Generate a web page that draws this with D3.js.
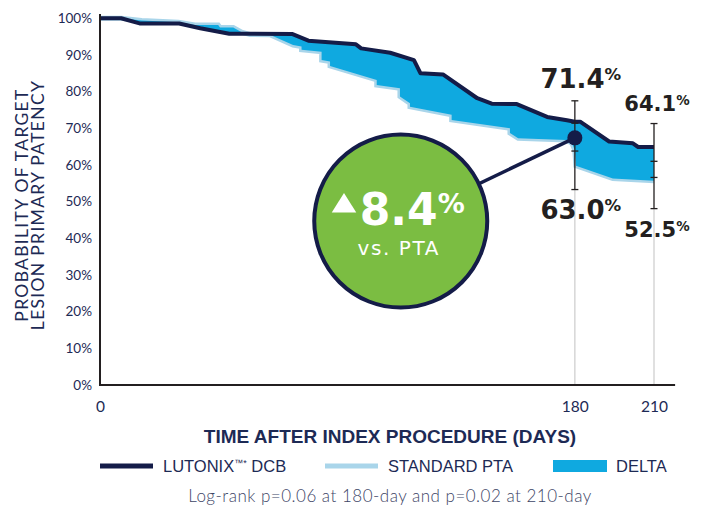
<!DOCTYPE html>
<html>
<head>
<meta charset="utf-8">
<script src="https://cdn.jsdelivr.net/npm/d3@7/dist/d3.min.js"></script>
<style>
  body { margin: 0; background: #fff; }
  svg { display: block; }
</style>
</head>
<body>
<svg id="chart" width="708" height="508"></svg>
<script>
// Kaplan-Meier estimates: [day, percent]
const dcbCurve = [
  [0, 100], [8, 100], [15, 98.6], [30, 98.6], [38, 97.3], [49, 95.8], [73, 95.7],
  [79, 93.9], [97, 92.9], [99, 91.8], [110, 90.6], [119, 88.6], [121.5, 85.0],
  [130, 84.7], [143, 78.2], [148.5, 76.7], [158, 76.6], [169.5, 73.1], [177, 72.2],
  [180, 71.8], [182, 71.8], [193, 66.4], [202, 65.9], [204, 64.9], [210, 64.9]
]
const ptaCurve = [
  [0, 100], [8, 100], [15.8, 99.4], [29.7, 98.9], [36, 98.2], [44.8, 98.2], [45.5, 97.5],
  [50.5, 97.5], [53.7, 96.2], [56.8, 95.6], [64.4, 95.5], [73.2, 92.7], [76.4, 92.3],
  [76.4, 91.4], [84, 90.9], [84, 88.6], [87.2, 88.2], [87.2, 87.0], [104.9, 83.2],
  [104.9, 81.8], [113.7, 80.9], [113.7, 78.7], [117.5, 76.8], [117.5, 75.9],
  [133.3, 73.7], [133.3, 72.3], [155.4, 70.0], [155.4, 68.7], [158.5, 67.3],
  [176.8, 66.8], [178.9, 65.9], [180, 64.0], [180.4, 59.8], [194.4, 56.3], [210, 55.7]
]

const xTicks = [0, 180, 210]
const yTicks = [0, 10, 20, 30, 40, 50, 60, 70, 80, 90, 100]

// error bars: upper, two estimate marks, lower (percent)
const errorBars = [
  { day: 180, hi: 77.5, marks: [71.4, 63.8], lo: 53.3 },
  { day: 210, hi: 71.3, marks: [61.0, 56.6], lo: 48.1 }
]
const callouts = [
  { day: 180, dcb: '71.4', pta: '63.0', big: true },
  { day: 210, dcb: '64.1', pta: '52.5', big: false }
]
const midPoint = [180, 67.4]
const bubbleAt = [114, 44.7]
const deltaText = '8.4'

const legendItems = [
  { label: 'LUTONIX', sup: '\u2122*', after: ' DCB', kind: 'dcb' },
  { label: 'STANDARD PTA', kind: 'pta' },
  { label: 'DELTA', kind: 'delta' }
]

const navy = '#141c48'
const lightBlue = '#a9d5ea'
const brightBlue = '#0fa9e0'
const green = '#7bbd42'
const ink = '#231f20'
const textNavy = '#1d2a55'

const svg = d3.select('#chart')

const x = d3.scaleLinear().domain([0, 210]).range([100, 654])
const y = d3.scaleLinear().domain([0, 100]).range([385, 18.3])

// axes
const yAxis = svg.append('g').attr('class', 'y axis').attr('transform', 'translate(100,0)')
yAxis.call(d3.axisLeft(y).tickValues(yTicks).tickSize(0).tickPadding(8).tickFormat(d => d + '%'))
yAxis.select('.domain').remove()
yAxis.selectAll('.tick text')
  .attr('font-family', 'Lato, sans-serif')
  .attr('font-size', 13.5)
  .attr('fill', textNavy)

const xAxis = svg.append('g').attr('class', 'x axis').attr('transform', 'translate(0,385)')
xAxis.call(d3.axisBottom(x).tickValues(xTicks).tickSize(0).tickPadding(16))
xAxis.select('.domain').remove()
xAxis.selectAll('.tick text')
  .attr('font-family', 'Lato, sans-serif')
  .attr('font-size', 15.5)
  .attr('fill', textNavy)

// guide lines at 180 and 210
svg.selectAll('.guide').data(errorBars).enter().append('line')
  .attr('class', 'guide')
  .attr('x1', d => x(d.day)).attr('x2', d => x(d.day))
  .attr('y1', d => y(d.lo)).attr('y2', y(0))
  .attr('stroke', '#cfcfcf').attr('stroke-width', 1.3)

// curves
const line = d3.line().x(d => x(d[0])).y(d => y(d[1]))

svg.append('path')
  .attr('d', line(ptaCurve))
  .attr('fill', 'none')
  .attr('stroke', lightBlue)
  .attr('stroke-width', 5)

svg.append('path')
  .attr('d', line(dcbCurve.concat(ptaCurve.slice().reverse())) + 'Z')
  .attr('fill', brightBlue)

svg.append('path')
  .attr('d', line(dcbCurve))
  .attr('fill', 'none')
  .attr('stroke', navy)
  .attr('stroke-width', 4)
  .attr('stroke-linejoin', 'round')

// axis lines on top
svg.append('line').attr('x1', 100).attr('x2', 100).attr('y1', y(101.2)).attr('y2', y(0) + 1)
  .attr('stroke', ink).attr('stroke-width', 2)
svg.append('line').attr('x1', 99).attr('x2', x(218)).attr('y1', y(0)).attr('y2', y(0))
  .attr('stroke', ink).attr('stroke-width', 2)

// error bars
const eb = svg.selectAll('.errbar').data(errorBars).enter().append('g').attr('class', 'errbar')
eb.append('line')
  .attr('x1', d => x(d.day)).attr('x2', d => x(d.day))
  .attr('y1', d => y(d.hi)).attr('y2', d => y(d.lo))
  .attr('stroke', ink).attr('stroke-width', 1.3)
eb.each(function (d) {
  const g = d3.select(this)
  ;[d.hi, d.lo].concat(d.marks).forEach(v => {
    g.append('line')
      .attr('x1', x(d.day) - 3.5).attr('x2', x(d.day) + 3.5)
      .attr('y1', y(v)).attr('y2', y(v))
      .attr('stroke', ink).attr('stroke-width', 1.3)
  })
})

// connector + bubble
const cx = x(bubbleAt[0]), cy = y(bubbleAt[1])
svg.append('line')
  .attr('x1', x(midPoint[0])).attr('y1', y(midPoint[1]))
  .attr('x2', cx).attr('y2', cy)
  .attr('stroke', navy).attr('stroke-width', 3.5)
svg.append('circle')
  .attr('cx', x(midPoint[0])).attr('cy', y(midPoint[1])).attr('r', 7.5)
  .attr('fill', navy)

svg.append('circle')
  .attr('cx', cx).attr('cy', cy).attr('r', 86.5)
  .attr('fill', green).attr('stroke', navy).attr('stroke-width', 4)

svg.append('path')
  .attr('d', 'M' + (cx - 69) + ',' + (cy - 8.5) + 'L' + (cx - 44.5) + ',' + (cy - 8.5) + 'L' + (cx - 56.75) + ',' + (cy - 28) + 'Z')
  .attr('fill', '#fff')

const big = svg.append('text')
  .attr('x', cx - 41).attr('y', cy + 4)
  .attr('font-family', 'DejaVu Sans, sans-serif')
  .attr('font-weight', 'bold')
  .attr('fill', '#fff')
big.append('tspan').attr('font-size', 44).text(deltaText)
big.append('tspan').attr('font-size', 27).attr('dy', -12).text('%')

svg.append('text')
  .attr('x', cx - 2).attr('y', cy + 34)
  .attr('text-anchor', 'middle')
  .attr('font-family', 'DejaVu Sans, sans-serif')
  .attr('font-size', 20)
  .attr('letter-spacing', 1.6)
  .attr('fill', '#fff')
  .text('vs. PTA')

// value callouts
function callout(label, px, py, size) {
  const t = svg.append('text')
    .attr('x', px).attr('y', py)
    .attr('text-anchor', 'middle')
    .attr('font-family', 'DejaVu Sans, sans-serif')
    .attr('font-weight', 'bold')
    .attr('fill', ink)
  t.append('tspan').attr('font-size', size).text(label)
  t.append('tspan').attr('font-size', size * 0.64).attr('dy', -size * 0.3).text('%')
}
callouts.forEach(d => {
  const s = d.big ? 26 : 21
  const dx = d.big ? 6 : 3
  callout(d.dcb, x(d.day) + dx, d.big ? 88 : 111, s)
  callout(d.pta, x(d.day) + dx, d.big ? 219 : 237, s)
})

// y axis title
const yTitle = ['PROBABILITY OF TARGET', 'LESION PRIMARY PATENCY']
svg.selectAll('.y-title').data(yTitle).enter().append('text')
  .attr('class', 'y-title')
  .attr('transform', (d, i) => 'translate(' + (28 + i * 16) + ',205) rotate(-90)')
  .attr('text-anchor', 'middle')
  .attr('font-family', 'Lato, sans-serif')
  .attr('font-size', 17.5)
  .attr('letter-spacing', 1.3)
  .attr('fill', textNavy)
  .text(d => d)

// x axis title
svg.append('text')
  .attr('x', 390).attr('y', 443)
  .attr('text-anchor', 'middle')
  .attr('font-family', 'Liberation Sans Narrow, Liberation Sans, sans-serif')
  .attr('font-weight', 'bold')
  .attr('font-size', 19)
  .attr('fill', textNavy)
  .text('TIME AFTER INDEX PROCEDURE (DAYS)')

// legend
const legendX = [100, 325, 553]
const legend = svg.selectAll('.legend').data(legendItems).enter().append('g')
  .attr('class', 'legend')
  .attr('transform', (d, i) => 'translate(' + legendX[i] + ',466)')
legend.each(function (d) {
  const g = d3.select(this)
  if (d.kind === 'delta') {
    g.append('rect').attr('x', 0).attr('y', -6).attr('width', 54).attr('height', 12).attr('fill', brightBlue)
  } else {
    g.append('line').attr('x1', 0).attr('x2', 53).attr('y1', 0).attr('y2', 0)
      .attr('stroke', d.kind === 'dcb' ? navy : lightBlue).attr('stroke-width', 5)
  }
  const t = g.append('text')
    .attr('x', 63)
    .attr('y', 6)
    .attr('font-family', 'Liberation Sans Narrow, Liberation Sans, sans-serif')
    .attr('font-size', 16.5)
    .attr('fill', textNavy)
  t.append('tspan').text(d.label)
  if (d.sup) {
    t.append('tspan').attr('font-size', 9).attr('dy', -6).text(d.sup)
    t.append('tspan').attr('dy', 6).text(d.after)
  }
})

// footnote
svg.append('text')
  .attr('x', 390).attr('y', 502)
  .attr('text-anchor', 'middle')
  .attr('font-family', 'Lato, sans-serif')
  .attr('font-weight', 300)
  .attr('font-size', 17)
  .attr('letter-spacing', 0.5)
  .attr('fill', '#3d4566')
  .text('Log-rank p=0.06 at 180-day and p=0.02 at 210-day')
</script>
</body>
</html>
